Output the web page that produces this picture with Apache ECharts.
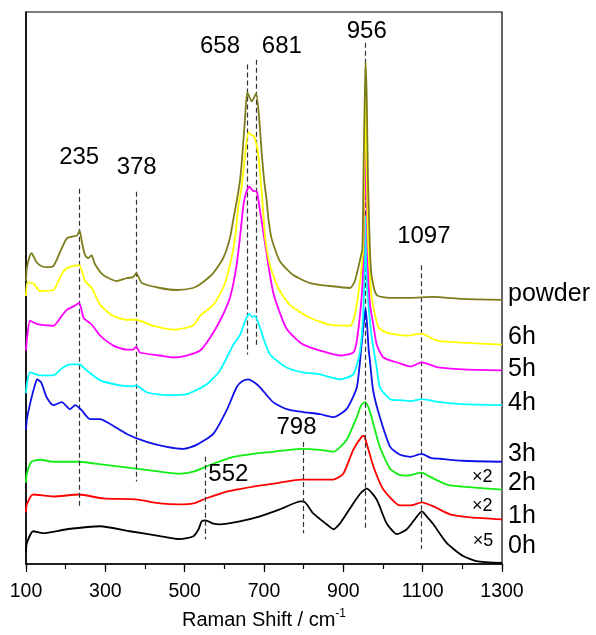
<!DOCTYPE html>
<html><head><meta charset="utf-8">
<script src="https://cdn.jsdelivr.net/npm/echarts@6/dist/echarts.min.js"></script>
<style>html,body{margin:0;padding:0;background:#fff}#c{width:596px;height:635px}</style>
</head><body><div id="c"></div>
<script>
// Raman spectra: [wavenumber cm-1, offset intensity (a.u.)]
const s0h = [[100,12],[102,21],[118,33],[144,31],[203,35],[287,38],[362,33],[438,28],[488,25],[522,28],[535,35],[543,43],[553,44],[570,41],[589,40],[639,43],[690,48],[740,55],[793,63],[800,63],[824,51],[858,40],[875,35],[892,41],[925,61],[945,72],[959,76],[984,65],[1009,41],[1035,30],[1060,35],[1080,45],[1098,53],[1110,48],[1127,40],[1161,21],[1202,8],[1236,3],[1300,1]];
const s1h = [[100,52],[102,60],[118,70],[169,68],[234,70],[295,66],[377,65],[438,61],[488,60],[522,61],[553,66],[606,73],[673,78],[723,81],[793,85],[841,85],[875,85],[900,91],[925,115],[946,128],[952,129],[959,121],[976,98],[1001,75],[1043,59],[1070,59],[1098,62],[1127,58],[1169,50],[1220,47],[1300,45]];
const s2h = [[100,82],[102,91],[114,103],[135,105],[169,103],[234,103],[295,100],[377,96],[438,93],[488,91],[522,93],[572,101],[623,108],[673,111],[723,113],[793,116],[841,115],[875,113],[908,125],[934,148],[945,160],[955,163],[963,158],[971,148],[992,118],[1018,96],[1040,90],[1060,89],[1098,92],[1118,88],[1161,80],[1200,78],[1300,75]];
const s3h = [[100,135],[102,145],[110,161],[123,181],[128,186],[138,183],[143,178],[152,168],[169,160],[190,163],[211,156],[224,160],[240,155],[261,146],[287,146],[312,141],[354,131],[404,123],[455,118],[497,116],[530,120],[572,131],[606,155],[631,178],[645,184],[660,186],[675,183],[690,178],[723,163],[757,156],[799,153],[841,151],[875,148],[908,156],[934,178],[946,221],[951,240],[956,258],[960,240],[964,215],[967,205],[975,175],[992,148],[1018,118],[1043,110],[1070,108],[1097,111],[1120,107],[1144,106],[1200,104],[1300,103]];
const s4h = [[100,172],[102,181],[110,193],[135,190],[169,190],[190,197],[211,201],[234,201],[253,195],[287,185],[337,180],[370,179],[378,180],[404,173],[455,170],[505,171],[556,181],[589,195],[623,221],[640,231],[648,240],[656,248],[663,252],[670,249],[677,250],[690,238],[698,228],[715,211],[757,198],[799,193],[841,191],[892,186],[925,191],[942,214],[950,250],[953,290],[956,350],[959,290],[962,268],[967,245],[971,230],[984,198],[992,178],[1018,166],[1043,165],[1070,164],[1097,166],[1144,163],[1200,161],[1300,160]];
const s5h = [[100,215],[102,226],[110,245],[120,243],[135,241],[169,240],[190,250],[203,256],[222,260],[234,263],[245,248],[253,245],[266,241],[287,230],[320,220],[354,216],[370,216],[378,219],[387,213],[438,210],[471,208],[505,210],[539,215],[564,228],[589,245],[614,268],[631,301],[641,335],[648,361],[654,373],[663,380],[672,376],[682,375],[688,361],[698,335],[711,301],[723,274],[740,253],[757,237],[780,227],[799,221],[841,215],[892,210],[925,213],[934,225],[946,268],[950,300],[953,360],[956,420],[959,360],[962,300],[967,262],[976,240],[984,221],[1001,208],[1043,202],[1070,199],[1097,203],[1140,198],[1200,196],[1300,195]];
const s6h = [[100,270],[104,284],[120,282],[135,275],[169,276],[190,292],[203,298],[234,301],[249,285],[266,278],[287,261],[319,250],[354,246],[377,246],[420,240],[471,236],[521,240],[539,250],[572,261],[597,278],[614,301],[627,328],[635,359],[644,381],[652,411],[661,435],[668,432],[675,431],[686,411],[694,376],[698,355],[703,328],[715,301],[736,278],[765,261],[816,248],[866,241],[917,240],[929,251],[942,285],[950,318],[953,400],[956,470],[959,400],[962,330],[967,290],[971,270],[976,258],[989,238],[1010,233],[1061,230],[1097,232],[1136,225],[1200,223],[1300,221]];
const sPowder = [[100,285],[102,298],[110,311],[114,313],[125,305],[135,301],[150,299],[169,300],[190,318],[203,328],[219,330],[229,331],[235,336],[242,322],[249,311],[257,308],[265,311],[274,302],[295,291],[329,285],[354,288],[370,289],[378,293],[392,283],[438,278],[480,276],[521,278],[540,282],[572,293],[597,308],[614,328],[623,348],[631,365],[640,388],[646,415],[652,448],[658,475],[669,466],[680,474],[688,448],[694,415],[700,388],[707,365],[711,348],[719,328],[740,305],[774,291],[816,283],[866,280],[917,278],[929,285],[942,306],[948,318],[951,400],[954,470],[956,505],[959,470],[962,390],[967,318],[971,291],[984,271],[1018,268],[1068,268],[1126,269],[1200,267],[1300,266]];

const seriesData = [s0h, s1h, s2h, s3h, s4h, s5h, s6h, sPowder];
const seriesNames = ['0h','1h','2h','3h','4h','5h','6h','powder'];
const seriesColors = ['#000000','#ff0000','#11ee11','#1010e8','#00ffff','#ff00ff','#ffff00','#7d7d1c'];
const endLabelShift = [-17,-3,-6,-8,-2,-1,-7,-6];

const tickLabels = ['100','300','500','700','900','1100','1300'];

const peakLinesX = [235,378,552,658,681,798,956,1097];
const peakLinesTop = [378,375,108,503,508,123,525,301];
const peakLinesBottom = [58,83,25,211,218,31,36,15];

const noteTexts = ['235','378','658','681','956','1097','798','552','×2','×2','×5'];
const noteX = [234,379,589,745,959,1103,782,610,1250,1250,1252];
const noteY = [410,400,521,521,536,330,138,90,88,58,23];
const noteSize = [24,24,24,24,24,24,24,24,18,18,18];

const FONT = '"Liberation Sans", Arial, sans-serif';
const chart = echarts.init(document.getElementById('c'), null, {renderer:'canvas'});

const lineSeries = seriesData.map((d, i) => ({
  type: 'line', name: seriesNames[i], data: d, xAxisIndex: 0, yAxisIndex: 0,
  showSymbol: false, symbol: 'none', smooth: 0.2,
  lineStyle: {color: seriesColors[i], width: 1.8}, itemStyle: {color: seriesColors[i]},
  z: 2 + i, silent: true,
  endLabel: {show: true, formatter: seriesNames[i], color: '#000', fontSize: 25,
    fontFamily: FONT, distance: 6, offset: [0, endLabelShift[i]]}
}));

const noteSeries = {
  type: 'scatter', xAxisIndex: 0, yAxisIndex: 0, z: 20, silent: true,
  symbolSize: 1, itemStyle: {color: 'rgba(255,255,255,0)'},
  data: noteTexts.map((t, i) => ({value: [noteX[i], noteY[i]],
    label: {show: true, position: 'inside', formatter: t, color: '#000',
      textBorderWidth: 0, opacity: 1,
      fontSize: noteSize[i], fontFamily: FONT}})),
  markLine: {
    silent: true, symbol: ['none','none'], label: {show: false},
    lineStyle: {color: '#333', type: [5,3], width: 1.2},
    data: peakLinesX.map((x, i) => [{coord: [x, peakLinesTop[i]]}, {coord: [x, peakLinesBottom[i]]}])
  }
};

chart.setOption({
  animation: false,
  backgroundColor: '#fff',
  grid: {left: 26, right: 94, top: 12, bottom: 67, show: true, borderColor: '#000', borderWidth: 1.2},
  xAxis: [
    {type: 'value', min: 100, max: 1300, interval: 100, position: 'bottom',
     axisLine: {show: true, lineStyle: {color: '#000', width: 1.5}},
     axisTick: {show: true, length: 5, lineStyle: {color: '#000', width: 1.2}},
     axisLabel: {show: false}, splitLine: {show: false}},
    {type: 'value', min: 0, max: 1200, interval: 200, position: 'bottom',
     axisLine: {show: false},
     axisTick: {show: true, length: 8, lineStyle: {color: '#000', width: 1.2}},
     axisLabel: {show: true, margin: 18, color: '#000', fontSize: 19.5, fontFamily: FONT,
       formatter: v => tickLabels[Math.round(v / 200)]},
     splitLine: {show: false},
     name: 'Raman Shift / cm{sup|-1}', nameLocation: 'middle', nameGap: 44,
     nameTextStyle: {color: '#000', fontSize: 20, fontFamily: FONT,
       rich: {sup: {fontSize: 12, fontFamily: FONT, color: '#000', padding: [0,0,12,0]}}}}
  ],
  yAxis: {type: 'value', min: 0, max: 556, show: true,
    axisLine: {show: true, lineStyle: {color: '#000', width: 1.5}},
    axisTick: {show: false}, axisLabel: {show: false}, splitLine: {show: false}},
  series: [...lineSeries, noteSeries]
});
</script></body></html>
